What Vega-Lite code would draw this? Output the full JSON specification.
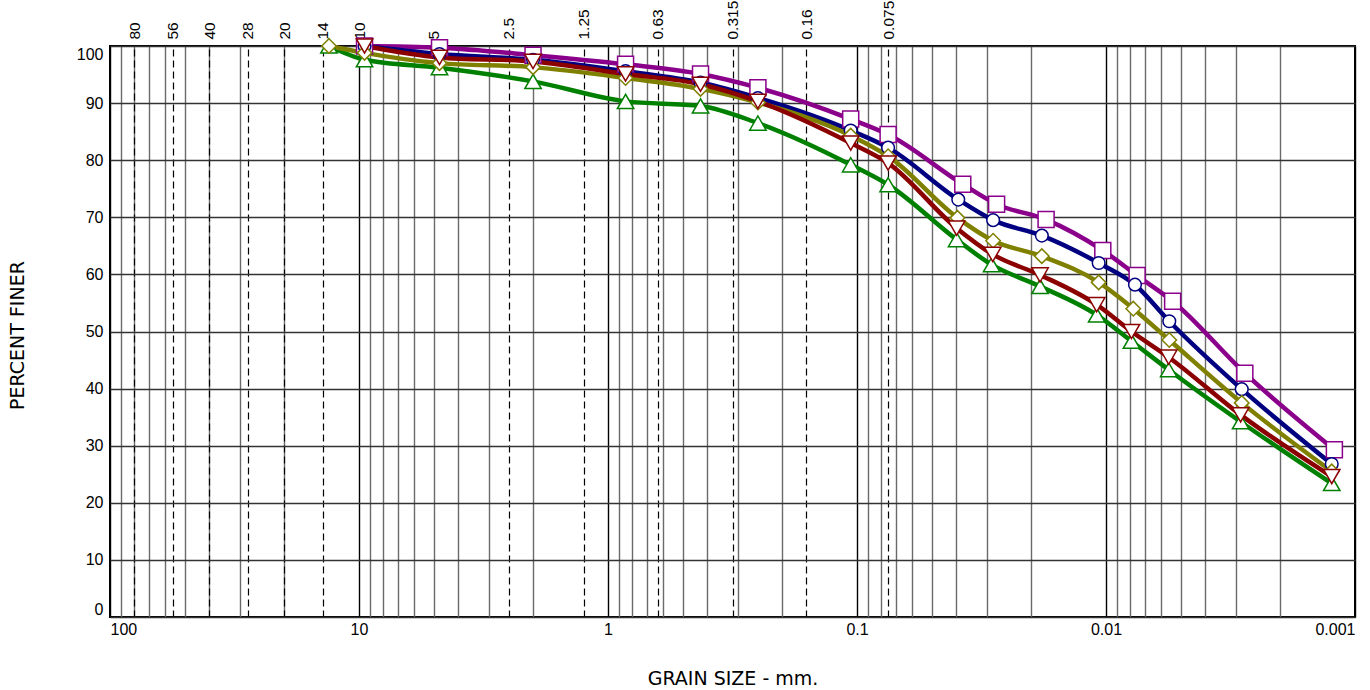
{
  "$schema": "https://vega.github.io/schema/vega-lite/v6.json",
  "width": 1245,
  "height": 571,
  "autosize": {"type": "none"},
  "padding": {"left": 110, "top": 46, "right": 15, "bottom": 73},
  "background": "white",
  "config": {
    "view": {"stroke": "black", "strokeWidth": 2},
    "font": "Liberation Sans",
    "axis": {
      "labelFont": "Liberation Sans",
      "labelFontSize": 16,
      "labelColor": "black",
      "titleFont": "DejaVu Sans",
      "titleFontSize": 19,
      "titleFontWeight": "normal",
      "titleColor": "black",
      "domain": false,
      "ticks": false
    }
  },
  "data": {
    "values": [
      {"s": "E", "d": 13.2, "p": 100},
      {"s": "E", "d": 9.5, "p": 97.6},
      {"s": "E", "d": 4.75, "p": 96.2},
      {"s": "E", "d": 2.0, "p": 93.8},
      {"s": "E", "d": 0.85, "p": 90.3},
      {"s": "E", "d": 0.425, "p": 89.5},
      {"s": "E", "d": 0.25, "p": 86.5},
      {"s": "E", "d": 0.106, "p": 79.2},
      {"s": "E", "d": 0.075, "p": 75.7},
      {"s": "E", "d": 0.0398, "p": 66.1},
      {"s": "E", "d": 0.0288, "p": 61.7},
      {"s": "E", "d": 0.0184, "p": 57.9},
      {"s": "E", "d": 0.0109, "p": 52.9},
      {"s": "E", "d": 0.0079, "p": 48.3},
      {"s": "E", "d": 0.0056, "p": 43.3},
      {"s": "E", "d": 0.00288, "p": 34.2},
      {"s": "E", "d": 0.00124, "p": 23.4},

      {"s": "A", "d": 9.5, "p": 100},
      {"s": "A", "d": 4.75, "p": 99.7},
      {"s": "A", "d": 2.0, "p": 98.4},
      {"s": "A", "d": 0.85, "p": 96.8},
      {"s": "A", "d": 0.425, "p": 95.1},
      {"s": "A", "d": 0.25, "p": 92.7},
      {"s": "A", "d": 0.106, "p": 87.2},
      {"s": "A", "d": 0.075, "p": 84.5},
      {"s": "A", "d": 0.0376, "p": 75.8},
      {"s": "A", "d": 0.0275, "p": 72.3},
      {"s": "A", "d": 0.0174, "p": 69.6},
      {"s": "A", "d": 0.0103, "p": 64.2},
      {"s": "A", "d": 0.0075, "p": 59.8},
      {"s": "A", "d": 0.0054, "p": 55.3},
      {"s": "A", "d": 0.00277, "p": 42.7},
      {"s": "A", "d": 0.00121, "p": 29.3},

      {"s": "B", "d": 9.5, "p": 100},
      {"s": "B", "d": 4.75, "p": 98.6},
      {"s": "B", "d": 2.0, "p": 97.6},
      {"s": "B", "d": 0.85, "p": 95.6},
      {"s": "B", "d": 0.425, "p": 93.6},
      {"s": "B", "d": 0.25, "p": 90.9},
      {"s": "B", "d": 0.106, "p": 85.2},
      {"s": "B", "d": 0.075, "p": 82.2},
      {"s": "B", "d": 0.0392, "p": 73.1},
      {"s": "B", "d": 0.0284, "p": 69.5},
      {"s": "B", "d": 0.0181, "p": 66.8},
      {"s": "B", "d": 0.0107, "p": 62.0},
      {"s": "B", "d": 0.00765, "p": 58.2},
      {"s": "B", "d": 0.00557, "p": 51.8},
      {"s": "B", "d": 0.00285, "p": 39.9},
      {"s": "B", "d": 0.00124, "p": 26.8},

      {"s": "C", "d": 13.2, "p": 100},
      {"s": "C", "d": 9.5, "p": 98.8},
      {"s": "C", "d": 4.75, "p": 97.0},
      {"s": "C", "d": 2.0, "p": 96.3},
      {"s": "C", "d": 0.85, "p": 94.4},
      {"s": "C", "d": 0.425, "p": 92.5},
      {"s": "C", "d": 0.25, "p": 90.1},
      {"s": "C", "d": 0.106, "p": 84.3},
      {"s": "C", "d": 0.075, "p": 80.7},
      {"s": "C", "d": 0.0395, "p": 69.9},
      {"s": "C", "d": 0.0284, "p": 65.9},
      {"s": "C", "d": 0.0181, "p": 63.2},
      {"s": "C", "d": 0.0107, "p": 58.6},
      {"s": "C", "d": 0.00777, "p": 54.0},
      {"s": "C", "d": 0.00557, "p": 48.5},
      {"s": "C", "d": 0.00285, "p": 37.5},
      {"s": "C", "d": 0.00124, "p": 25.5},

      {"s": "D", "d": 9.5, "p": 100},
      {"s": "D", "d": 4.75, "p": 98.0},
      {"s": "D", "d": 2.0, "p": 97.3},
      {"s": "D", "d": 0.85, "p": 95.1},
      {"s": "D", "d": 0.425, "p": 93.3},
      {"s": "D", "d": 0.25, "p": 90.3},
      {"s": "D", "d": 0.106, "p": 83.0},
      {"s": "D", "d": 0.075, "p": 79.5},
      {"s": "D", "d": 0.0398, "p": 68.1},
      {"s": "D", "d": 0.0285, "p": 63.5},
      {"s": "D", "d": 0.0184, "p": 59.9},
      {"s": "D", "d": 0.0109, "p": 54.7},
      {"s": "D", "d": 0.0079, "p": 50.0},
      {"s": "D", "d": 0.0056, "p": 45.5},
      {"s": "D", "d": 0.00288, "p": 35.4},
      {"s": "D", "d": 0.00124, "p": 24.6}
    ]
  },
  "layer": [
    {
      "mark": {"type": "line", "interpolate": "monotone", "strokeWidth": 4.5},
      "encoding": {
        "x": {
          "field": "d",
          "type": "quantitative",
          "scale": {"type": "log", "domain": [0.001, 100], "reverse": true, "nice": false},
          "axis": {
            "orient": "bottom",
            "title": "GRAIN SIZE - mm.",
            "titleY": 61,
            "titleBaseline": "middle",
            "values": [0.001,0.002,0.003,0.004,0.005,0.006,0.007,0.008,0.009,0.01,0.02,0.03,0.04,0.05,0.06,0.07,0.08,0.09,0.1,0.2,0.3,0.4,0.5,0.6,0.7,0.8,0.9,1,2,3,4,5,6,7,8,9,10,20,30,40,50,60,70,80,90,100],
            "format": "~g",
            "labelExpr": "indexof(['100','10','1','0.1','0.01','0.001'], datum.label) >= 0 ? datum.label : ''",
            "labelOverlap": false,
            "labelPadding": 4,
            "labelFlush": true,
            "grid": true,
            "gridColor": {"condition": {"test": "indexof([100,10,1,0.1,0.01,0.001], datum.value) >= 0", "value": "#000000"}, "value": "#6a6a6a"},
            "gridWidth": 1.4,
            "gridOpacity": 1
          }
        },
        "y": {
          "field": "p",
          "type": "quantitative",
          "scale": {"domain": [0, 100], "nice": false},
          "axis": {
            "title": "PERCENT FINER",
            "titleX": -93,
            "titleY": 289,
            "titleAngle": -90,
            "titleBaseline": "middle",
            "titleAlign": "center",
            "values": [0,10,20,30,40,50,60,70,80,90,100],
            "labelPadding": 7,
            "labelFlush": true,
            "grid": true,
            "gridColor": "#333333",
            "gridWidth": 1.4,
            "gridOpacity": 1
          }
        },
        "color": {
          "field": "s",
          "type": "nominal",
          "scale": {"domain": ["A", "B", "C", "D", "E"], "range": ["#8b008b", "#000080", "#808000", "#8b0000", "#008000"]},
          "legend": null
        },
        "order": {"field": "d", "sort": "descending"}
      }
    },
    {
      "mark": {"type": "point", "filled": false, "fill": "white", "fillOpacity": 1, "strokeWidth": 1.5, "opacity": 1},
      "encoding": {
        "x": {
          "field": "d",
          "type": "quantitative",
          "scale": {"type": "log", "domain": [0.001, 100], "reverse": true, "nice": false},
          "axis": {
            "orient": "top",
            "title": null,
            "values": [80,56,40,28,20,14,10,5,2.5,1.25,0.63,0.315,0.16,0.075],
            "format": "~g",
            "labelAngle": -90,
            "labelFontSize": 15.5,
            "labelPadding": 7,
            "labelFlush": false,
            "labelOverlap": false,
            "grid": true,
            "gridDash": [7, 4],
            "gridColor": "#000000",
            "gridWidth": 1.2,
            "gridOpacity": {"condition": {"test": "datum.value == 10 || datum.value == 5", "value": 0}, "value": 1}
          }
        },
        "y": {"field": "p", "type": "quantitative", "scale": {"domain": [0, 100], "nice": false}},
        "color": {"field": "s", "type": "nominal", "legend": null},
        "shape": {
          "field": "s",
          "type": "nominal",
          "scale": {"domain": ["A", "B", "C", "D", "E"], "range": ["square", "circle", "diamond", "triangle-down", "triangle-up"]},
          "legend": null
        },
        "size": {
          "field": "s",
          "type": "nominal",
          "scale": {"type": "ordinal", "domain": ["A", "B", "C", "D", "E"], "range": [256, 160, 210, 270, 270]},
          "legend": null
        }
      }
    }
  ],
  "resolve": {"axis": {"x": "independent"}}
}
